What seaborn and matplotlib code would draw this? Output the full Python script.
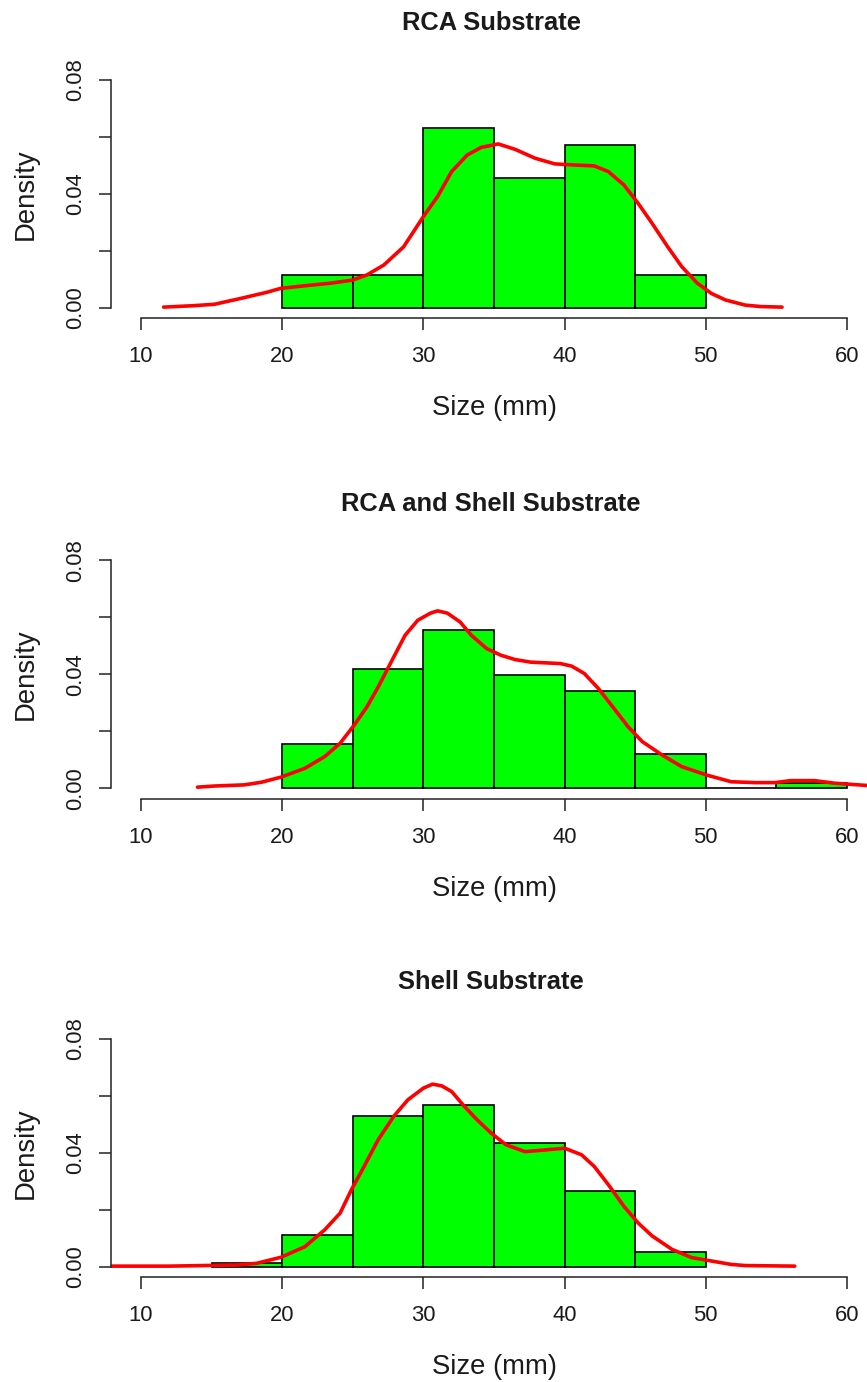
import matplotlib
matplotlib.use("Agg")
import matplotlib.pyplot as plt
import seaborn as sns

# ---- data -------------------------------------------------------------
titles = ["RCA Substrate", "RCA and Shell Substrate", "Shell Substrate"]

# histogram bin edges (mm) and bar heights (density)
rca_edges = [20, 25, 30, 35, 40, 45, 50]
rca_density = [0.0114, 0.0114, 0.0630, 0.0457, 0.0570, 0.0114]

mix_edges = [20, 25, 30, 35, 40, 45, 50, 55, 60]
mix_density = [0.0156, 0.0418, 0.0555, 0.0398, 0.0340, 0.0119, 0.0, 0.0020]

shell_edges = [15, 20, 25, 30, 35, 40, 45, 50]
shell_density = [0.0014, 0.0112, 0.0528, 0.0569, 0.0436, 0.0266, 0.0050]

# kernel density curves
rca_kde_x = [11.6, 13.7, 15.2, 17.1, 18.9, 19.9, 21.6, 23.4, 25.0, 26.0, 27.2,
             28.6, 30.0, 31.0, 32.0, 33.1, 34.1, 35.3, 36.5, 37.9, 39.3, 40.7,
             42.1, 43.1, 44.2, 45.2, 46.2, 47.3, 48.3, 49.4, 50.4, 51.4, 52.8,
             53.9, 55.4]
rca_kde_y = [0.0002, 0.0007, 0.0012, 0.0033, 0.0054, 0.0068, 0.0077, 0.0086,
             0.0097, 0.0115, 0.0150, 0.0214, 0.0320, 0.0390, 0.0478, 0.0536,
             0.0563, 0.0575, 0.0556, 0.0525, 0.0505, 0.0501, 0.0498, 0.0478,
             0.0431, 0.0367, 0.0296, 0.0214, 0.0144, 0.0086, 0.0050, 0.0027,
             0.0009, 0.0004, 0.0002]

mix_kde_x = [14.0, 15.2, 17.3, 18.5, 19.9, 21.6, 23.0, 24.1, 25.1, 26.0, 26.8,
             27.9, 28.7, 29.6, 30.5, 31.0, 31.7, 32.6, 33.4, 34.5, 35.5, 36.5,
             37.6, 39.7, 40.5, 41.4, 42.4, 43.5, 44.5, 45.5, 46.9, 48.3, 50.1,
             51.8, 53.5, 54.9, 56.0, 57.7, 59.1, 61.4]
mix_kde_y = [0.0004, 0.0008, 0.0012, 0.0021, 0.0039, 0.0070, 0.0111, 0.0158,
             0.0222, 0.0286, 0.0356, 0.0461, 0.0537, 0.0590, 0.0615, 0.0623,
             0.0615, 0.0584, 0.0537, 0.0490, 0.0467, 0.0452, 0.0443, 0.0438,
             0.0429, 0.0403, 0.0350, 0.0280, 0.0216, 0.0164, 0.0117, 0.0076,
             0.0046, 0.0023, 0.0020, 0.0020, 0.0027, 0.0027, 0.0018, 0.0010]

shell_kde_x = [7.8, 12.0, 16.8, 18.2, 19.9, 21.6, 23.0, 24.1, 24.9, 25.8, 26.8,
               27.9, 28.9, 30.0, 30.65, 31.3, 32.0, 32.9, 33.8, 34.8, 35.85,
               37.2, 38.6, 40.0, 41.2, 42.1, 43.1, 44.2, 45.2, 46.2, 47.6, 49.0,
               50.4, 51.8, 52.8, 56.3]
shell_kde_y = [0.0002, 0.0002, 0.0006, 0.0012, 0.0033, 0.0070, 0.0129, 0.0188,
               0.0270, 0.0352, 0.0446, 0.0528, 0.0586, 0.0627, 0.0641, 0.0635,
               0.0615, 0.0563, 0.0516, 0.0469, 0.0428, 0.0404, 0.0410, 0.0416,
               0.0393, 0.0352, 0.0288, 0.0212, 0.0154, 0.0108, 0.0061, 0.0032,
               0.0020, 0.0008, 0.0004, 0.0002]

x_ticks = [10, 20, 30, 40, 50, 60]
y_ticks = [0.00, 0.02, 0.04, 0.06, 0.08]
y_tick_labels = ["0.00", "", "0.04", "", "0.08"]

panels = [
    (rca_edges, rca_density, rca_kde_x, rca_kde_y),
    (mix_edges, mix_density, mix_kde_x, mix_kde_y),
    (shell_edges, shell_density, shell_kde_x, shell_kde_y),
]

# ---- layout (pixels) --------------------------------------------------
W, H = 867, 1382
PX_PER_MM = 14.12
PX_PER_DENS = 2848.0
X_LO, X_HI = 7.84, 62.0
Y_LO, Y_HI = -0.0037, 0.0832
zero_px = [307.7, 788.3, 1266.7]     # pixel row of density 0 in each panel
x10_px = 141.0                        # pixel column of x = 10

left_px = x10_px - (10 - X_LO) * PX_PER_MM
width_px = (X_HI - X_LO) * PX_PER_MM
height_px = (Y_HI - Y_LO) * PX_PER_DENS

sns.set_theme(style="ticks")
plt.rcParams["font.family"] = ["Liberation Sans", "DejaVu Sans"]
plt.rcParams["axes.linewidth"] = 1.1

fig = plt.figure(figsize=(W / 100, H / 100), dpi=100)
fig.patch.set_facecolor("white")


def fx(px):
    return px / W


def fy(py):
    return 1 - py / H


for k, (edges, dens, kx, ky) in enumerate(panels):
    y0 = zero_px[k]
    top_px = y0 - Y_HI * PX_PER_DENS
    ax = fig.add_axes([fx(left_px), fy(top_px + height_px),
                       width_px / W, height_px / H])
    ax.set_facecolor("white")

    mids = [(a + b) / 2 for a, b in zip(edges[:-1], edges[1:])]
    sns.histplot(x=mids, weights=dens, bins=edges, stat="count",
                 color="#00ff00", alpha=1, edgecolor="black", linewidth=1.2,
                 ax=ax)
    sns.lineplot(x=kx, y=ky, color="#ff0000", linewidth=2.6, ax=ax)

    ax.set_xlim(X_LO, X_HI)
    ax.set_ylim(Y_LO, Y_HI)
    ax.set_xlabel("")
    ax.set_ylabel("")

    ax.set_xticks(x_ticks)
    ax.set_xticklabels([str(t) for t in x_ticks])
    ax.set_yticks(y_ticks)
    ax.set_yticklabels(y_tick_labels)

    for side in ("top", "right"):
        ax.spines[side].set_visible(False)
    ax.spines["left"].set_bounds(0, 0.08)
    ax.spines["bottom"].set_bounds(10, 60)
    for side in ("left", "bottom"):
        ax.spines[side].set_color("#222222")
        ax.spines[side].set_linewidth(1.1)

    ax.tick_params(axis="x", length=8.4, width=1.1, color="#222222",
                   labelsize=15.8, labelcolor="#1a1a1a", pad=11.8)
    ax.tick_params(axis="y", length=8.4, width=1.1, color="#222222",
                   labelsize=15.8, labelcolor="#1a1a1a", pad=8.9)
    for lab in ax.get_yticklabels():
        lab.set_rotation(90)
        lab.set_va("center")

    # title, axis labels
    fig.text(fx(491), fy(y0 - 277.7), titles[k], ha="center", va="baseline",
             fontsize=18.4, fontweight="bold", color="#1a1a1a")
    fig.text(fx(25.6), fy(y0 - 0.04 * PX_PER_DENS), "Density", rotation=90,
             ha="center", va="center", fontsize=19.8, color="#1a1a1a")
    fig.text(fx(495), fy(y0 + 100.3), "Size (mm)", ha="center", va="center",
             fontsize=19.8, color="#1a1a1a")

fig.savefig("out.png", dpi=100, facecolor="white")
